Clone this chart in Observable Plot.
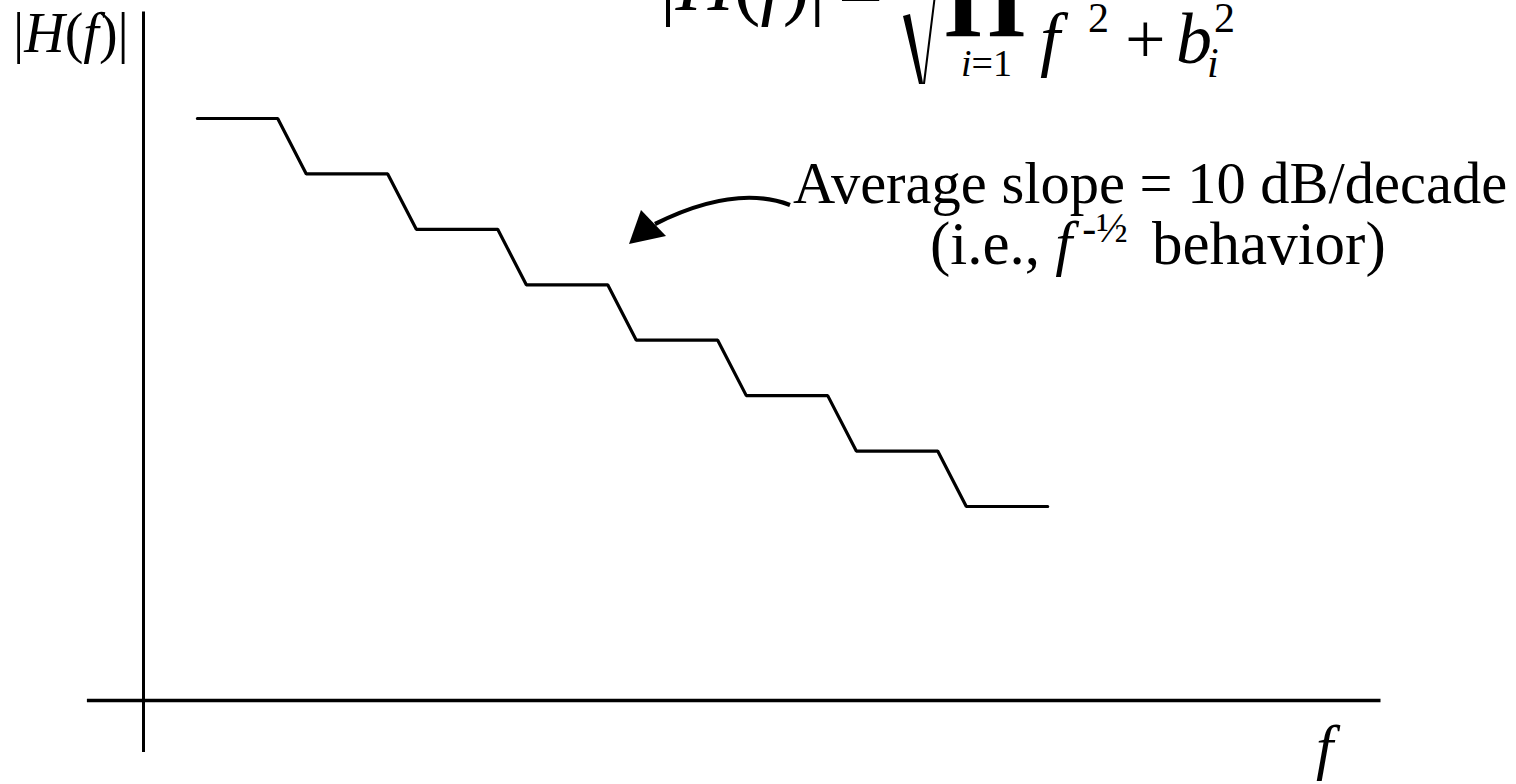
<!DOCTYPE html>
<html>
<head>
<meta charset="utf-8">
<script src="https://cdn.jsdelivr.net/npm/d3@7"></script>
<script src="https://cdn.jsdelivr.net/npm/@observablehq/plot@0.6"></script>
<style>
  html, body { margin: 0; padding: 0; background: #fff; overflow: hidden; }
  #chart svg { display: block; }
</style>
</head>
<body>
<div id="chart"></div>
<script>
// ---- data (frequency in decade-like units, magnitude in dB) ----
const flatStart = [0.49, 1.48, 2.48, 3.48, 4.48, 5.48, 6.48, 7.48];
const flatEnd   = [1.22, 2.22, 3.22, 4.22, 5.22, 6.22, 7.22, 8.22];
const levels    = [105, 95, 85, 75, 65, 55, 45, 35];
const xAxisSpan = [-0.51, 11.25];
const yAxisSpan = [-9.4, 124.2];

const steps = [];
flatStart.forEach((s, i) => {
  steps.push({f: s, mag: levels[i]});
  steps.push({f: flatEnd[i], mag: levels[i]});
});

const W = 1516, H = 784;
const FONT = "'Liberation Serif', 'Times New Roman', serif";

const plot = Plot.plot({
  width: W, height: H,
  marginTop: 0, marginRight: 0, marginBottom: 0, marginLeft: 0,
  x: {domain: [-143 / 110, (W - 143) / 110], axis: null},
  y: {domain: [-(H - 700) / 5.543, 700 / 5.543], axis: null},
  style: {background: "#fff", overflow: "hidden"},
  marks: [
    Plot.ruleY([0], {x1: xAxisSpan[0], x2: xAxisSpan[1], stroke: "#000", strokeWidth: 3.5}),
    Plot.ruleX([0], {y1: yAxisSpan[0], y2: yAxisSpan[1], stroke: "#000", strokeWidth: 3}),
    Plot.line(steps, {x: "f", y: "mag", stroke: "#000", strokeWidth: 3.2, strokeLinejoin: "miter"})
  ]
});
document.getElementById("chart").appendChild(plot);

const svg = d3.select(plot);

// ---- text helpers ----
function txt(x, y, size, parts, anchor = "start") {
  const t = svg.append("text")
    .attr("x", x).attr("y", y)
    .attr("font-family", FONT).attr("font-size", size)
    .attr("text-anchor", anchor).attr("fill", "#000");
  parts.forEach(p => {
    const s = t.append("tspan").text(p.t);
    if (p.i) s.attr("font-style", "italic");
    if (p.size) s.attr("font-size", p.size);
    if (p.x != null) s.attr("x", p.x);
    if (p.dy) s.attr("dy", p.dy);
    if (p.dx) s.attr("dx", p.dx);
  });
  return t;
}

// Axis labels
txt(13, 52, 56, [{t: "|"}, {t: "H", i: true}, {t: "("}, {t: "f", i: true}, {t: ")"}, {t: "|"}]);
txt(1316, 768, 62, [{t: "f", i: true}]);

// Annotation text
txt(793, 203, 58.5, [{t: "Average slope = 10 dB/decade"}]);
txt(930, 264, 61, [
  {t: "(i.e., "}, {t: "f", i: true},
  {t: "-", size: 42, dy: -22, dx: 10}, {t: "½", size: 42},
  {t: "behavior)", size: 61, dy: 22, x: 1152}
]);

// Arrow (curved, filled head)
svg.append("path")
  .attr("d", `M790,205 Q735,184 655,224`)
  .attr("fill", "none").attr("stroke", "#000").attr("stroke-width", 4.2);
svg.append("path")
  .attr("d", `M629,244 L641,210 L666,236 Z`)
  .attr("fill", "#000");

// Clipped formula at top: |H(f)| = sqrt( prod ... / (f^2 + b_i^2) )
txt(660, 10, 80, [{t: "|"}, {t: "H", i: true}, {t: "("}, {t: "f", i: true}, {t: ")"}, {t: "|"}]);
txt(838, 18, 80, [{t: "="}]);
svg.append("path")
  .attr("d", "M903,16 L910,14 L923,83 L934,-5 L936,-5 L925,84 L919,84 Z")
  .attr("fill", "#000");
txt(942, 14, 104, [{t: "\u220F"}]).attr("font-weight", "bold");
txt(961, 76, 38, [{t: "i", i: true}, {t: "=1"}]);
txt(1040, 63, 72, [{t: "f", i: true}]);
txt(1088, 32, 42, [{t: "2"}]);
txt(1125, 63, 72, [{t: "+"}]);
txt(1176, 63, 72, [{t: "b", i: true}]);
txt(1207, 77, 42, [{t: "i", i: true}]);
txt(1214, 32, 42, [{t: "2"}]);
</script>
</body>
</html>
